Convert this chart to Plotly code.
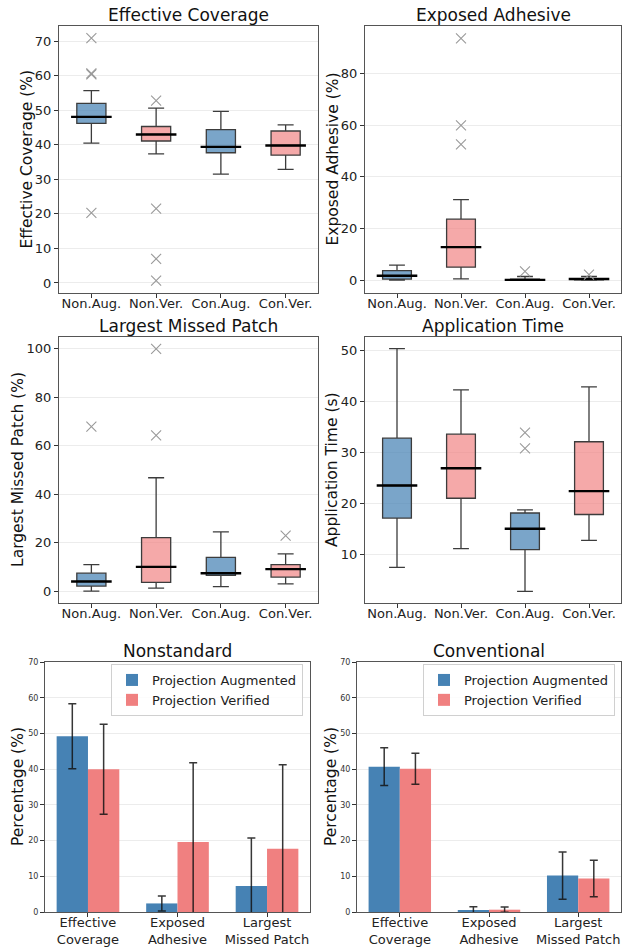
import plotly.graph_objects as go

W, H = 622, 947
FONT = "DejaVu Sans"

# ---------------- data ----------------
box_cats = ["Non.Aug.", "Non.Ver.", "Con.Aug.", "Con.Ver."]

ec_q1 = [46.2, 41.1, 37.7, 37.0]
ec_med = [48.1, 43.0, 39.4, 39.8]
ec_q3 = [52.0, 45.3, 44.4, 44.0]
ec_lo = [40.5, 37.4, 31.5, 32.9]
ec_hi = [55.7, 50.6, 49.7, 45.8]
ec_out_x = ["Non.Aug.", "Non.Aug.", "Non.Aug.", "Non.Aug.", "Non.Ver.", "Non.Ver.", "Non.Ver.", "Non.Ver."]
ec_out_y = [70.9, 60.7, 60.4, 20.3, 52.8, 21.5, 7.0, 0.7]

ea_q1 = [0.4, 5.0, 0.0, 0.1]
ea_med = [1.7, 12.8, 0.1, 0.4]
ea_q3 = [3.7, 23.6, 0.4, 0.6]
ea_lo = [0.0, 0.5, 0.0, 0.0]
ea_hi = [5.8, 31.2, 1.4, 1.4]
ea_out_x = ["Non.Ver.", "Non.Ver.", "Non.Ver.", "Con.Aug.", "Con.Ver."]
ea_out_y = [93.7, 60.0, 52.6, 3.4, 2.1]

lm_q1 = [2.1, 3.6, 6.5, 5.8]
lm_med = [4.0, 10.0, 7.4, 9.1]
lm_q3 = [7.4, 22.1, 13.9, 10.9]
lm_lo = [0.0, 1.2, 1.9, 3.0]
lm_hi = [10.9, 46.8, 24.5, 15.4]
lm_out_x = ["Non.Aug.", "Non.Ver.", "Non.Ver.", "Con.Ver."]
lm_out_y = [67.9, 100.0, 64.3, 22.9]

at_q1 = [17.1, 21.0, 10.9, 17.8]
at_med = [23.5, 26.9, 15.0, 22.4]
at_q3 = [32.8, 33.6, 18.1, 32.1]
at_lo = [7.4, 11.1, 2.7, 12.7]
at_hi = [50.4, 42.3, 18.7, 42.9]
at_out_x = ["Con.Aug.", "Con.Aug."]
at_out_y = [33.9, 30.8]

bar_cats = ["Effective<br>Coverage", "Exposed<br>Adhesive", "Largest<br>Missed Patch"]
non_aug_mean = [49.2, 2.4, 7.3]
non_aug_sd = [9.1, 2.1, 13.4]
non_ver_mean = [40.0, 19.6, 17.7]
non_ver_sd = [12.6, 22.2, 23.5]
con_aug_mean = [40.7, 0.55, 10.2]
con_aug_sd = [5.3, 0.9, 6.6]
con_ver_mean = [40.1, 0.65, 9.4]
con_ver_sd = [4.35, 0.75, 5.1]

# ---------------- styles ----------------
BLUE_BOX = "rgba(70,130,180,0.72)"
PINK_BOX = "rgba(240,128,128,0.68)"
BLUE_BAR = "#4682b4"
RED_BAR = "#f08080"
EDGE = "#3c3c3c"


def xd(a, b):
    return [a / W, b / W]


def yd(top, bot):
    return [1 - bot / H, 1 - top / H]


fig = go.Figure()

panels = [
    ("x", "y", ec_q1, ec_med, ec_q3, ec_lo, ec_hi, ec_out_x, ec_out_y),
    ("x2", "y2", ea_q1, ea_med, ea_q3, ea_lo, ea_hi, ea_out_x, ea_out_y),
    ("x3", "y3", lm_q1, lm_med, lm_q3, lm_lo, lm_hi, lm_out_x, lm_out_y),
    ("x4", "y4", at_q1, at_med, at_q3, at_lo, at_hi, at_out_x, at_out_y),
]

for xa, ya, q1, med, q3, lo, hi, ox, oy in panels:
    for idxs, fill in (([0, 2], BLUE_BOX), ([1, 3], PINK_BOX)):
        fig.add_trace(go.Box(
            x=[box_cats[i] for i in idxs],
            q1=[q1[i] for i in idxs], median=[med[i] for i in idxs],
            q3=[q3[i] for i in idxs], lowerfence=[lo[i] for i in idxs],
            upperfence=[hi[i] for i in idxs],
            fillcolor=fill, line=dict(color=EDGE, width=1.3),
            width=0.45, whiskerwidth=0.55, boxpoints=False,
            showlegend=False, hoverinfo="skip", xaxis=xa, yaxis=ya))
    fig.add_trace(go.Scatter(
        x=box_cats, y=med, mode="markers",
        marker=dict(symbol="line-ew", size=29, line=dict(color="black", width=2.4)),
        showlegend=False, hoverinfo="skip", xaxis=xa, yaxis=ya))
    fig.add_trace(go.Scatter(
        x=ox, y=oy, mode="markers",
        marker=dict(symbol="x-thin", size=10, line=dict(color="#9a9a9a", width=1.1)),
        showlegend=False, hoverinfo="skip", xaxis=xa, yaxis=ya))

err_style = dict(type="data", color="rgba(20,20,20,0.85)", thickness=1.5, width=4)
for xa, ya, am, asd, vm, vsd, lg in (
        ("x5", "y5", non_aug_mean, non_aug_sd, non_ver_mean, non_ver_sd, "legend"),
        ("x6", "y6", con_aug_mean, con_aug_sd, con_ver_mean, con_ver_sd, "legend2")):
    fig.add_trace(go.Bar(x=bar_cats, y=am, name="Projection Augmented",
                         marker=dict(color=BLUE_BAR, line=dict(width=0)),
                         error_y=dict(array=asd, **err_style),
                         xaxis=xa, yaxis=ya, legend=lg))
    fig.add_trace(go.Bar(x=bar_cats, y=vm, name="Projection Verified",
                         marker=dict(color=RED_BAR, line=dict(width=0)),
                         error_y=dict(array=vsd, **err_style),
                         xaxis=xa, yaxis=ya, legend=lg))

axis_common = dict(showline=True, mirror=True, linecolor="#555", linewidth=1,
                   ticks="outside", ticklen=4, tickcolor="#333", automargin=False,
                   zeroline=False, tickfont=dict(family=FONT, size=13, color="#222"))
grid = dict(showgrid=True, gridcolor="#ececec", gridwidth=1)

frames = {
    "1": (59, 318, 26, 293),
    "2": (365, 621, 26, 293),
    "3": (59, 318, 337, 603),
    "4": (365, 621, 337, 603),
    "5": (45, 310, 662, 912),
    "6": (357, 621, 662, 912),
}
yranges = {"1": [-2.9, 74.4], "2": [-5.0, 98.5], "3": [-4.9, 104.9],
           "4": [0.4, 52.7], "5": [0, 70], "6": [0, 70]}
ydticks = {"1": 10, "2": 20, "3": 20, "4": 10, "5": 10, "6": 10}

layout = {}
for k, (l, r, t, b) in frames.items():
    xname = "xaxis" if k == "1" else "xaxis" + k
    yname = "yaxis" if k == "1" else "yaxis" + k
    xid = "x" if k == "1" else "x" + k
    yid = "y" if k == "1" else "y" + k
    if k in "1234":
        xax = dict(domain=xd(l, r), anchor=yid, range=[-0.5, 3.5], type="category",
                   categoryorder="array", categoryarray=box_cats,
                   showgrid=False, ticklabelstandoff=-6, **axis_common)
    else:
        xax = dict(domain=xd(l, r), anchor=yid, range=[-0.48, 2.48], type="category",
                   categoryorder="array", categoryarray=bar_cats,
                   showgrid=False, ticklabelstandoff=-6, **axis_common)
    layout[xname] = xax
    yax = dict(domain=yd(t, b), anchor=xid, range=yranges[k], dtick=ydticks[k],
               tick0=0, **grid, **axis_common)
    if k in "56":
        yax["tickfont"] = dict(family=FONT, size=8, color="#333")
    layout[yname] = yax

fig.update_layout(**layout)

fig.update_layout(
    width=W, height=H, margin=dict(l=0, r=0, t=0, b=0, autoexpand=False),
    paper_bgcolor="white", plot_bgcolor="white",
    font=dict(family=FONT, color="#222"),
    barmode="group", bargap=0.3, bargroupgap=0,
    legend=dict(x=303 / W, y=1 - 664 / H, xanchor="right", yanchor="top",
                bgcolor="rgba(255,255,255,0.85)", bordercolor="#d0d0d0", borderwidth=1,
                font=dict(family=FONT, size=13, color="#222"), itemwidth=30,
                tracegroupgap=2),
    legend2=dict(x=615 / W, y=1 - 664 / H, xanchor="right", yanchor="top",
                 bgcolor="rgba(255,255,255,0.85)", bordercolor="#d0d0d0", borderwidth=1,
                 font=dict(family=FONT, size=13, color="#222"), itemwidth=30,
                 tracegroupgap=2),
)

titles = {"1": "Effective Coverage", "2": "Exposed Adhesive", "3": "Largest Missed Patch",
          "4": "Application Time", "5": "Nonstandard", "6": "Conventional"}
ytitles = {"1": ("Effective Coverage (%)", 26), "2": ("Exposed Adhesive (%)", 332),
           "3": ("Largest Missed Patch (%)", 18), "4": ("Application Time (s)", 332),
           "5": ("Percentage (%)", 18), "6": ("Percentage (%)", 331)}
for k, (l, r, t, b) in frames.items():
    fig.add_annotation(text=titles[k], xref="paper", yref="paper",
                       x=(l + r) / 2 / W, y=1 - (t + 1) / H, xanchor="center", yanchor="bottom",
                       showarrow=False, font=dict(family=FONT, size=17, color="#111"))
    txt, cx = ytitles[k]
    fig.add_annotation(text=txt, xref="paper", yref="paper", textangle=-90,
                       x=cx / W, y=1 - (t + b) / 2 / H, xanchor="center", yanchor="middle",
                       showarrow=False, font=dict(family=FONT, size=15.5, color="#111"))

fig.write_html("out.html", config={"displayModeBar": False},
               post_script="document.body.style.margin='0';document.body.style.overflow='hidden';")
